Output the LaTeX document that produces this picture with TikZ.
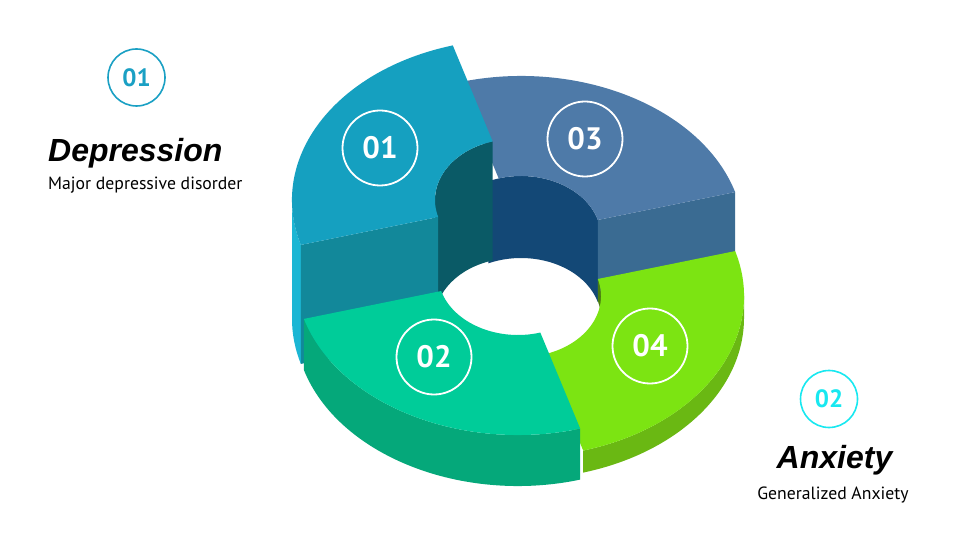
\documentclass[tikz,border=0pt]{standalone}
\usepackage{fontspec}
\setmainfont{PT Sans}
\newfontfamily\headfont{Liberation Sans}
\usetikzlibrary{calc}
\usepackage{xcolor}

\definecolor{topA}{HTML}{15A0C0}
\definecolor{cutA}{HTML}{12889A}
\definecolor{outA}{HTML}{1BB6D4}
\definecolor{inA}{HTML}{0A5A66}
\definecolor{topB}{HTML}{00CC99}
\definecolor{outB}{HTML}{05A87A}
\definecolor{topC}{HTML}{4E7AA8}
\definecolor{cutC}{HTML}{3A6B92}
\definecolor{inC}{HTML}{134876}
\definecolor{topD}{HTML}{7CE412}
\definecolor{outD}{HTML}{6AB813}
\definecolor{inD}{HTML}{4A7E10}
\definecolor{badgeA}{HTML}{1AA0C4}
\definecolor{badgeB}{HTML}{18E8F0}

\begin{document}
\begin{tikzpicture}[x=1pt, y=1pt,
  outer/.style={x radius=223, y radius=161},
  inner/.style={x radius=80, y radius=61},
  ring/.style={circle, draw=white, line width=1.8pt, minimum size=75pt, inner sep=0pt,
    text=white, font=\bfseries\fontsize{31}{31}\selectfont},
  badge/.style={circle, line width=1.6pt, minimum size=57pt, inner sep=0pt,
    font=\bfseries\fontsize{25}{25}\selectfont},
  title/.style={inner sep=0pt, font=\headfont\bfseries\itshape\fontsize{32}{32}\selectfont},
  sub/.style={inner sep=0pt, font=\fontsize{17.7}{17.7}\selectfont}]

\useasboundingbox[fill=white] (0,0) rectangle (960,541);

% ---------- ring centre and segment levels ----------
\coordinate (c) at (521,267);
% segment / shift / top level / bottom level
\foreach \s/\dx/\up/\dn in {1/-6/74/-45, 2/-3/0/-51, 3/0/37/-45, 4/0/-22/-44}{
  \coordinate (top\s) at ($(c)+(\dx,\up)$);
  \coordinate (bot\s) at ($(c)+(\dx,\dn)$);
}

% ---------- segment 03 (back right, raised) ----------
% inner wall runs on under segment 01
\fill[inC] ($(top3)+(16.2:80 and 61)$) arc[inner, start angle=16.2, end angle=114]
  -- ($(bot3)+(114:80 and 61)$) arc[inner, start angle=114, end angle=16.2] -- cycle;
\fill[cutC] ($(top3)+(16.2:80 and 61)$) -- ($(top3)+(16.2:223 and 161)$)
  -- ($(bot3)+(16.2:223 and 161)$) -- ($(bot3)+(16.2:80 and 61)$) -- cycle;
\fill[topC] ($(top3)+(16.2:223 and 161)$) arc[outer, start angle=16.2, end angle=106.2]
  -- ($(top3)+(106.2:80 and 61)$) arc[inner, start angle=106.2, end angle=16.2] -- cycle;

% ---------- segment 01 (back left, raised most) ----------
\fill[outA] ($(top1)+(180:223 and 161)$) arc[outer, start angle=180, end angle=196.2]
  -- ($(bot1)+(196.2:223 and 161)$) arc[outer, start angle=196.2, end angle=180] -- cycle;
\fill[inA] ($(top1)+(106.2:80 and 61)$) arc[inner, start angle=106.2, end angle=180]
  -- ($(bot1)+(180:80 and 61)$) arc[inner, start angle=180, end angle=106.2] -- cycle;
\fill[cutA] ($(top1)+(196.2:223 and 161)$) -- ($(top1)+(196.2:80 and 61)$)
  -- ($(bot1)+(196.2:80 and 61)$) -- ($(bot1)+(196.2:223 and 161)$) -- cycle;
\fill[topA] ($(top1)+(106.2:223 and 161)$) arc[outer, start angle=106.2, end angle=196.2]
  -- ($(top1)+(196.2:80 and 61)$) arc[inner, start angle=196.2, end angle=106.2] -- cycle;

% ---------- segment 04 (front right, lowered) ----------
\fill[outD] ($(top4)+(-73.8:223 and 161)$) arc[outer, start angle=-73.8, end angle=0]
  -- ($(bot4)+(0:223 and 161)$) arc[outer, start angle=0, end angle=-73.8] -- cycle;
\fill[inD] ($(top4)+(0:80 and 61)$) arc[inner, start angle=0, end angle=16.2]
  -- ($(bot4)+(16.2:80 and 61)$) arc[inner, start angle=16.2, end angle=0] -- cycle;
\fill[topD] ($(top4)+(-73.8:223 and 161)$) arc[outer, start angle=-73.8, end angle=16.2]
  -- ($(top4)+(16.2:80 and 61)$) arc[inner, start angle=16.2, end angle=-73.8] -- cycle;

% ---------- segment 02 (front left) ----------
\fill[outB] ($(top2)+(196.2:223 and 161)$) arc[outer, start angle=196.2, end angle=286.2]
  -- ($(bot2)+(286.2:223 and 161)$) arc[outer, start angle=286.2, end angle=196.2] -- cycle;
\fill[topB] ($(top2)+(196.2:223 and 161)$) arc[outer, start angle=196.2, end angle=286.2]
  -- ($(top2)+(286.2:80 and 61)$) arc[inner, start angle=286.2, end angle=196.2] -- cycle;

% ---------- numbered rings ----------
\node[ring] (ring01) at (380,393) {01};
\node[ring] (ring02) at (434,184) {02};
\node[ring] (ring03) at (585,402) {03};
\node[ring] (ring04) at (650,195) {04};

% ---------- side captions ----------
\node[badge, draw=badgeA, text=badgeA] (badge01) at (136.5,463.5) {01};
\node[title, anchor=base west] (dep) at (48,379) {Depression};
\node[sub, anchor=base west] (depsub) at (48,351) {Major depressive disorder};

\node[badge, draw=badgeB, text=badgeB] (badge02) at (829,142) {02};
\node[title, anchor=base] (anx) at (834.5,73) {Anxiety};
\node[sub, anchor=base] (anxsub) at (833,42) {Generalized Anxiety};

\end{tikzpicture}
\end{document}
